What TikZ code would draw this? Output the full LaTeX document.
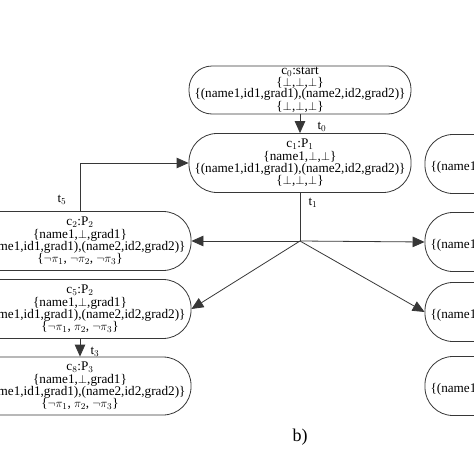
\documentclass[tikz,border=0pt]{standalone}
\usepackage{fontspec}
\setmainfont{Liberation Serif}
\usetikzlibrary{arrows.meta, positioning, calc}
\definecolor{linegray}{RGB}{55,55,55}

\begin{document}
\begin{tikzpicture}[
    x=1pt, y=-1pt,
    cbox/.style={draw=linegray, line width=0.8pt, rounded corners=28pt,
        minimum width=222pt, minimum height=59pt, inner sep=0.5pt,
        font=\fontsize{13.2}{12.4}\selectfont, align=center},
    arrow/.style={-{Triangle[length=12pt, width=10.5pt]}, line width=0.8pt, linegray},
    lbl/.style={font=\fontsize{13}{13}\selectfont}
]
\useasboundingbox (0,0) rectangle (474,474);
\clip (0,0) rectangle (474,474);

% start configuration
\node[cbox, minimum height=48pt, rounded corners=23pt,
      font=\fontsize{13.2}{11.6}\selectfont] (c0) at (300,90) {
    c$_0$:start\\
    \{$\bot$,$\bot$,$\bot$\}\\
    \{(name1,id1,grad1),(name2,id2,grad2)\}\\
    \{$\bot$,$\bot$,$\bot$\}
};

% middle configuration
\node[cbox] (c1) at (300,163) {
    c$_1$:P$_1$\\
    \{name1,$\bot$,$\bot$\}\\
    \{(name1,id1,grad1),(name2,id2,grad2)\}\\
    \{$\bot$,$\bot$,$\bot$\}
};

% left column
\node[cbox] (c2) at (80,241) {
    c$_2$:P$_2$\\
    \{name1,$\bot$,grad1\}\\
    \{(name1,id1,grad1),(name2,id2,grad2)\}\\
    \{$\neg\pi_1$, $\neg\pi_2$, $\neg\pi_3$\}
};
\node[cbox] (c5) at (80,309) {
    c$_5$:P$_2$\\
    \{name1,$\bot$,grad1\}\\
    \{(name1,id1,grad1),(name2,id2,grad2)\}\\
    \{$\neg\pi_1$, $\pi_2$, $\neg\pi_3$\}
};
\node[cbox, minimum height=58pt] (c8) at (80,386) {
    c$_8$:P$_3$\\
    \{name1,$\bot$,grad1\}\\
    \{(name1,id1,grad1),(name2,id2,grad2)\}\\
    \{$\neg\pi_1$, $\pi_2$, $\neg\pi_3$\}
};

% right column
\node[cbox] (r1) at (536,164) {\mbox{}\\ \mbox{}\\ \{(name1,id1,grad1),(name2,id2,grad2)\}\\ \mbox{}};
\node[cbox] (r2) at (536,242) {\mbox{}\\ \mbox{}\\ \{(name1,id1,grad1),(name2,id2,grad2)\}\\ \mbox{}};
\node[cbox] (r3) at (536,312) {\mbox{}\\ \mbox{}\\ \{(name1,id1,grad1),(name2,id2,grad2)\}\\ \mbox{}};
\node[cbox] (r4) at (536,386) {\mbox{}\\ \mbox{}\\ \{(name1,id1,grad1),(name2,id2,grad2)\}\\ \mbox{}};

% transitions
\coordinate (j) at (c1.south |- 0,241);
\draw[arrow] (c0) -- (c1);
\draw[line width=0.8pt, linegray] (c1.south) -- (j);
\draw[arrow] (j) -- (c2.east);
\draw[arrow] (j) -- (c5.east);
\draw[arrow] (j) -- (r2.west);
\draw[arrow] (j) -- (r3.west);
\draw[arrow] (c2.north) |- (c1.west);
\draw[arrow] (c5) -- (c8);

\node[lbl] (t0) at (322,127) {t$_0$};
\node[lbl] (t1) at (313,203) {t$_1$};
\node[lbl] (t5) at (62,200) {t$_5$};
\node[lbl] (t3) at (95,352) {t$_3$};

\node[font=\fontsize{18}{20}\selectfont] (cap) at (300,437) {b)};

\end{tikzpicture}
\end{document}
